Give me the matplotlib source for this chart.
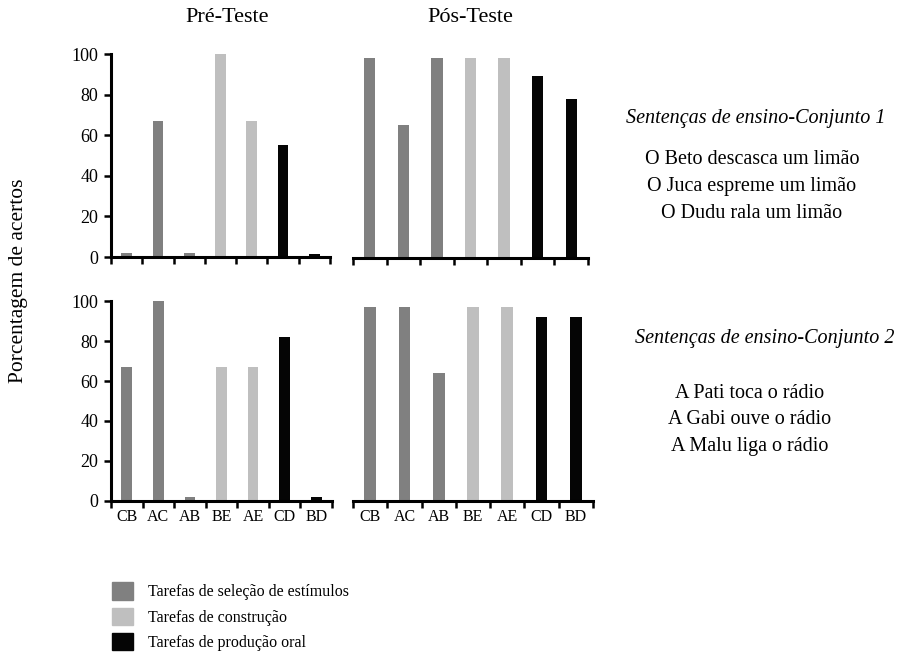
import matplotlib
matplotlib.use('Agg')
import matplotlib.pyplot as plt
from matplotlib.patches import Patch
import numpy as np

plt.rcParams['font.family'] = ['Liberation Serif', 'DejaVu Serif']

categorias = ['CB', 'AC', 'AB', 'BE', 'AE', 'CD', 'BD']
tipo = ['sel', 'sel', 'sel', 'cons', 'cons', 'oral', 'oral']
cores = {'sel': '#808080', 'cons': '#bfbfbf', 'oral': '#050505'}

# conjunto 1
pre_c1 = [2, 67, 2, 100, 67, 55, 1.5]
pos_c1 = [98, 65, 98, 98, 98, 89, 78]
# conjunto 2
pre_c2 = [67, 100, 2, 67, 67, 82, 2]
pos_c2 = [97, 97, 64, 97, 97, 92, 92]

W, H = 903, 657
fig = plt.figure(figsize=(W / 100, H / 100), dpi=100)


def box(x0, x1, y0, y100):
    # pixel coords -> figure fraction
    return [x0 / W, 1 - y0 / H, (x1 - x0) / W, (y0 - y100) / H]


axes = {
    'pre1': fig.add_axes(box(111, 330, 257, 54)),
    'pos1': fig.add_axes(box(353, 588, 258, 54)),
    'pre2': fig.add_axes(box(111, 332, 500.7, 301.3)),
    'pos2': fig.add_axes(box(353, 593, 500.7, 301.3)),
}
dados = {'pre1': pre_c1, 'pos1': pos_c1, 'pre2': pre_c2, 'pos2': pos_c2}

x = np.arange(len(categorias))
for nome, ax in axes.items():
    vals = dados[nome]
    ax.bar(x, vals, width=0.34, color=[cores[t] for t in tipo])
    ax.set_xlim(-0.5, 6.5)
    ax.set_ylim(0, 100)
    for s in ['top', 'right']:
        ax.spines[s].set_visible(False)
    ax.spines['bottom'].set_linewidth(2.2)
    ax.spines['left'].set_linewidth(2.2)
    ax.set_xticks(np.arange(-0.5, 7, 1))
    ax.set_xticklabels([])
    ax.tick_params(axis='x', which='major', direction='out', length=5, width=1.8)
    if nome.endswith('2'):
        ax.set_xticks(x, minor=True)
        ax.set_xticklabels(categorias, minor=True, fontsize=11.5)
        ax.tick_params(axis='x', which='minor', length=0, pad=6)
    if nome.startswith('pre'):
        ax.set_yticks([0, 20, 40, 60, 80, 100])
        ax.tick_params(axis='y', direction='out', length=5, width=1.8, labelsize=13, pad=4)
    else:
        ax.spines['left'].set_visible(False)
        ax.set_yticks([])

fig.text(227 / W, 1 - 18 / H, 'Pré-Teste', ha='center', va='center', fontsize=16)
fig.text(470 / W, 1 - 18 / H, 'Pós-Teste', ha='center', va='center', fontsize=16)
fig.text(19 / W, 1 - 281 / H, 'Porcentagem de acertos', ha='center', va='center',
         rotation=90, fontsize=15.5)

fig.text(756 / W, 1 - 118 / H, 'Sentenças de ensino-Conjunto 1', ha='center', va='center',
         fontsize=14.5, style='italic')
for i, s in enumerate(['O Beto descasca um limão', 'O Juca espreme um limão', 'O Dudu rala um limão']):
    fig.text(752 / W, 1 - (160 + 27 * i) / H, s, ha='center', va='center', fontsize=14.5)

fig.text(765 / W, 1 - 339 / H, 'Sentenças de ensino-Conjunto 2', ha='center', va='center',
         fontsize=14.5, style='italic')
for i, s in enumerate(['A Pati toca o rádio', 'A Gabi ouve o rádio', 'A Malu liga o rádio']):
    fig.text(750 / W, 1 - (393 + 27 * i) / H, s, ha='center', va='center', fontsize=14.5)

handles = [Patch(color=cores['sel'], label='Tarefas de seleção de estímulos'),
           Patch(color=cores['cons'], label='Tarefas de construção'),
           Patch(color=cores['oral'], label='Tarefas de produção oral')]
fig.legend(handles=handles, loc='upper left', bbox_to_anchor=(98 / W, 1 - 568 / H),
           frameon=False, fontsize=11.5, handlelength=1.3, handleheight=1.3,
           handletextpad=0.9, labelspacing=0.45)

plt.savefig('out.png', dpi=100)
